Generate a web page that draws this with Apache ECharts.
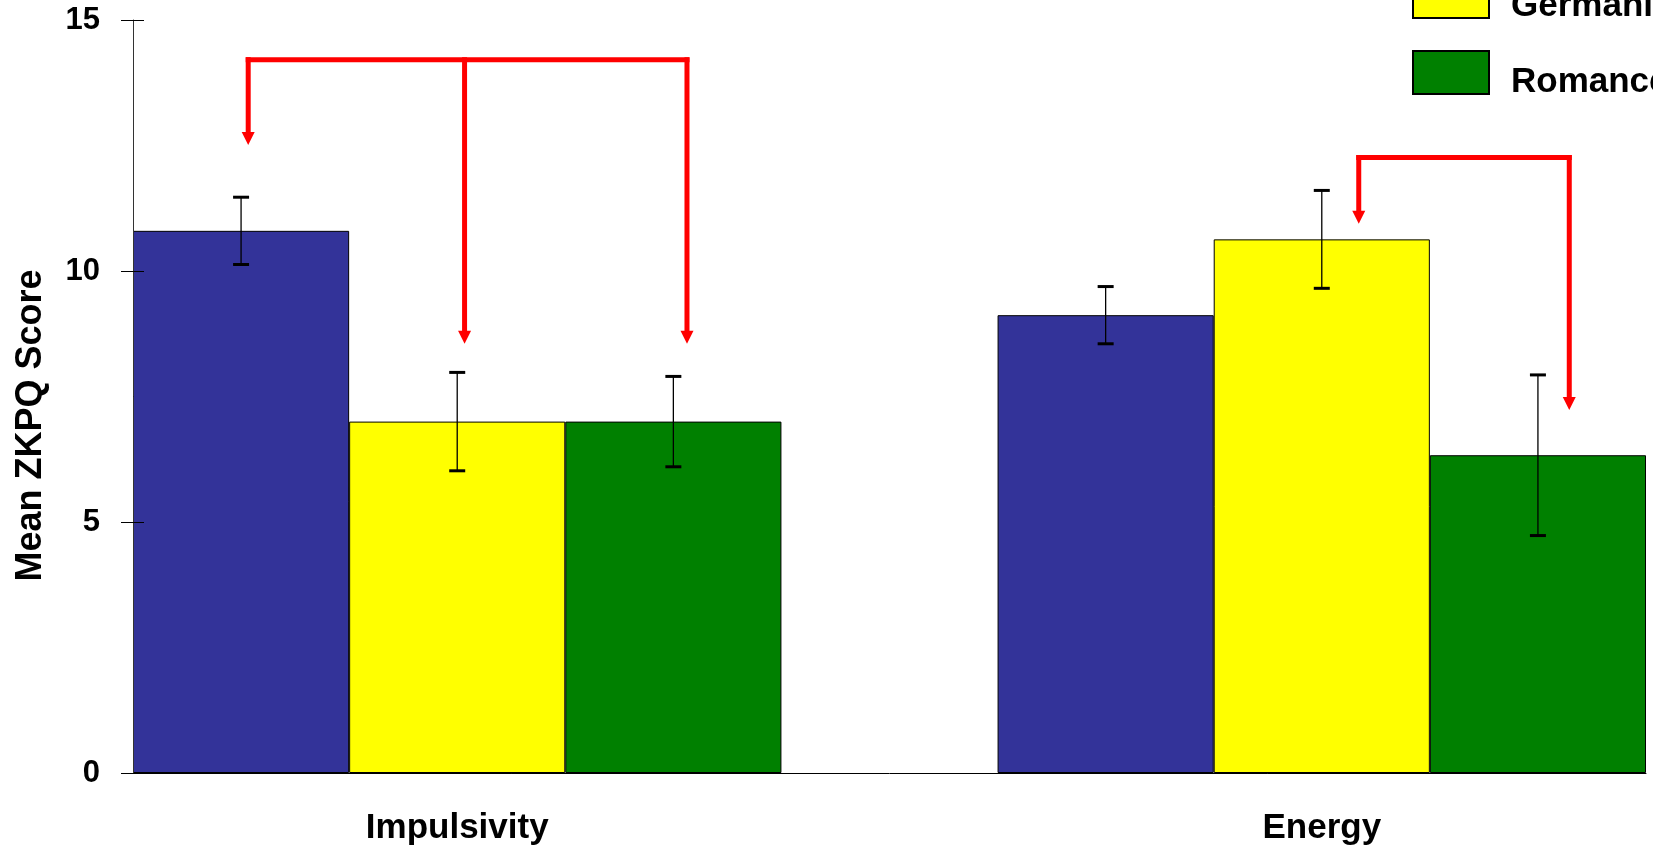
<!DOCTYPE html>
<html>
<head>
<meta charset="utf-8">
<script src="https://cdn.jsdelivr.net/npm/echarts@6/dist/echarts.min.js"></script>
<style>
html,body{margin:0;padding:0;background:#fff;}
#chart{width:1653px;height:847px;}
</style>
</head>
<body>
<div id="chart"></div>
<script>
// ---- data ----
const categories = ['Impulsivity', 'Energy'];
const groups = ['Anglo-Saxon', 'Germanic', 'Romance'];
const angloMeans = [10.80, 9.12];
const germanicMeans = [7.00, 10.63];
const romanceMeans = [7.00, 6.33];
const angloErr = [0.67, 0.57];
const germanicErr = [0.98, 0.975];
const romanceErr = [0.90, 1.60];
const yTicks = [0, 5, 10, 15];
// significance brackets: level of the bar, and drops [slot, offset within slot, arrow tip value]
const bracketLevels = [14.21, 12.26];
const bracketDrops = [
  [[0, 0.033, 12.51], [1, 0.034, 8.55], [2, 0.063, 8.55]],
  [[5, 0.171, 10.94], [6, 0.145, 7.23]]
];

// ---- layout of slots: 3 bars per category, one empty slot between ----
const perCat = groups.length + 1;
const nSlots = categories.length * perCat - 1;
const slotLabels = [];
for (let s = 0; s < nSlots; s++) slotLabels.push('');
categories.forEach((c, i) => { slotLabels[i * perCat + 1] = c; });

const allMeans = [angloMeans, germanicMeans, romanceMeans];
const allErr = [angloErr, germanicErr, romanceErr];
const colors = ['#333399', '#FFFF00', '#008000'];
const FONT = '"Liberation Sans", Arial, sans-serif';

const barSeries = groups.map((g, gi) => {
  const d = [];
  for (let s = 0; s < nSlots; s++) d.push(null);
  categories.forEach((c, ci) => { d[ci * perCat + gi] = allMeans[gi][ci]; });
  return {
    name: g, type: 'bar', data: d, barWidth: '100%', barGap: '-100%',
    itemStyle: { color: colors[gi], borderColor: '#000', borderWidth: 1 },
    z: 2
  };
});

const errData = [];
groups.forEach((g, gi) => {
  categories.forEach((c, ci) => {
    errData.push([ci * perCat + gi, allMeans[gi][ci], allErr[gi][ci]]);
  });
});

const errSeries = {
  type: 'custom', name: 'err', data: errData, z: 5, silent: true,
  encode: { x: 0, y: 1 },
  renderItem: function (params, api) {
    const x = api.value(0), m = api.value(1), e = api.value(2);
    const hi = api.coord([x, m + e]);
    const lo = api.coord([x, m - e]);
    const cw = 8;
    return {
      type: 'group',
      children: [
        { type: 'line', shape: { x1: hi[0], y1: hi[1], x2: lo[0], y2: lo[1] }, style: { stroke: '#000', lineWidth: 1.3 } },
        { type: 'line', shape: { x1: hi[0] - cw, y1: hi[1], x2: hi[0] + cw, y2: hi[1] }, style: { stroke: '#000', lineWidth: 3 } },
        { type: 'line', shape: { x1: lo[0] - cw, y1: lo[1], x2: lo[0] + cw, y2: lo[1] }, style: { stroke: '#000', lineWidth: 3 } }
      ]
    };
  }
};

const bracketData = bracketLevels.map((lv, i) => [bracketDrops[i][0][0], lv, i]);
const bracketSeries = {
  type: 'custom', name: 'brackets', data: bracketData, z: 6, silent: true,
  encode: { x: 0, y: 1 }, clip: false,
  renderItem: function (params, api) {
    const idx = api.value(2);
    const lv = bracketLevels[idx];
    const drops = bracketDrops[idx];
    const band = api.size([1, 0])[0];
    const lw = 5, ah = 13, aw = 6.5;
    const yTop = api.coord([0, lv])[1];
    const children = [];
    const xs = [];
    drops.forEach(d => {
      const x = api.coord([d[0], lv])[0] + d[1] * band;
      xs.push(x);
      const yTip = api.coord([0, d[2]])[1];
      children.push({ type: 'line', shape: { x1: x, y1: yTop - lw / 2, x2: x, y2: yTip - ah + 1 }, style: { stroke: '#FF0000', lineWidth: lw } });
      children.push({ type: 'polygon', shape: { points: [[x - aw, yTip - ah], [x + aw, yTip - ah], [x, yTip]] }, style: { fill: '#FF0000' } });
    });
    children.push({ type: 'line', shape: { x1: xs[0] - lw / 2, y1: yTop, x2: xs[xs.length - 1] + lw / 2, y2: yTop }, style: { stroke: '#FF0000', lineWidth: lw } });
    return { type: 'group', children: children };
  }
};

const chart = echarts.init(document.getElementById('chart'), null, { renderer: 'canvas' });
chart.setOption({
  animation: false,
  backgroundColor: '#fff',
  grid: { left: 133, right: 7, top: 20, bottom: 74, containLabel: false },
  legend: {
    data: groups, orient: 'vertical', left: 1407, top: -107,
    itemWidth: 76, itemHeight: 43, itemGap: 26,
    icon: 'rect',
    itemStyle: { borderColor: '#000', borderWidth: 2 },
    formatter: name => '{t|' + name + '}',
    textStyle: {
      fontFamily: FONT, fontWeight: 'bold', fontSize: 35, color: '#000', padding: [0, 0, 0, 17],
      rich: { t: { fontFamily: FONT, fontWeight: 'bold', fontSize: 35, color: '#000', padding: [20, 0, 0, 0] } }
    },
    selectedMode: false
  },
  xAxis: {
    type: 'category', data: slotLabels, boundaryGap: true, z: 10,
    axisLine: { lineStyle: { color: '#000', width: 1 } },
    axisTick: { interval: 0, length: 13, lineStyle: { color: '#000' } },
    axisLabel: { interval: 0, fontFamily: FONT, fontWeight: 'bold', fontSize: 35, color: '#000', margin: 38 },
    splitLine: { show: false }
  },
  yAxis: [{
    type: 'value', min: 0, max: 15, interval: 5, z: 10,
    name: 'Mean ZKPQ Score', nameLocation: 'middle', nameGap: 84,
    nameTextStyle: { fontFamily: FONT, fontWeight: 'bold', fontSize: 36, color: '#000', padding: [0, 58, 0, 0] },
    axisLine: { show: true, lineStyle: { color: '#333', width: 1 } },
    axisTick: { show: true, length: 12, lineStyle: { color: '#000' } },
    axisLabel: { fontFamily: FONT, fontWeight: 'bold', fontSize: 31, color: '#000', margin: 33,
      formatter: v => (yTicks.indexOf(v) >= 0 ? String(v) : '') },
    splitLine: { show: false }
  }, {
    type: 'value', min: 0, max: 15, interval: 5, z: 10,
    position: 'right', offset: -1513,
    axisLine: { show: false },
    axisTick: { show: true, length: 11, inside: false, lineStyle: { color: '#000' } },
    axisLabel: { show: false },
    splitLine: { show: false }
  }],
  series: barSeries.concat([errSeries, bracketSeries])
});
</script>
</body>
</html>
